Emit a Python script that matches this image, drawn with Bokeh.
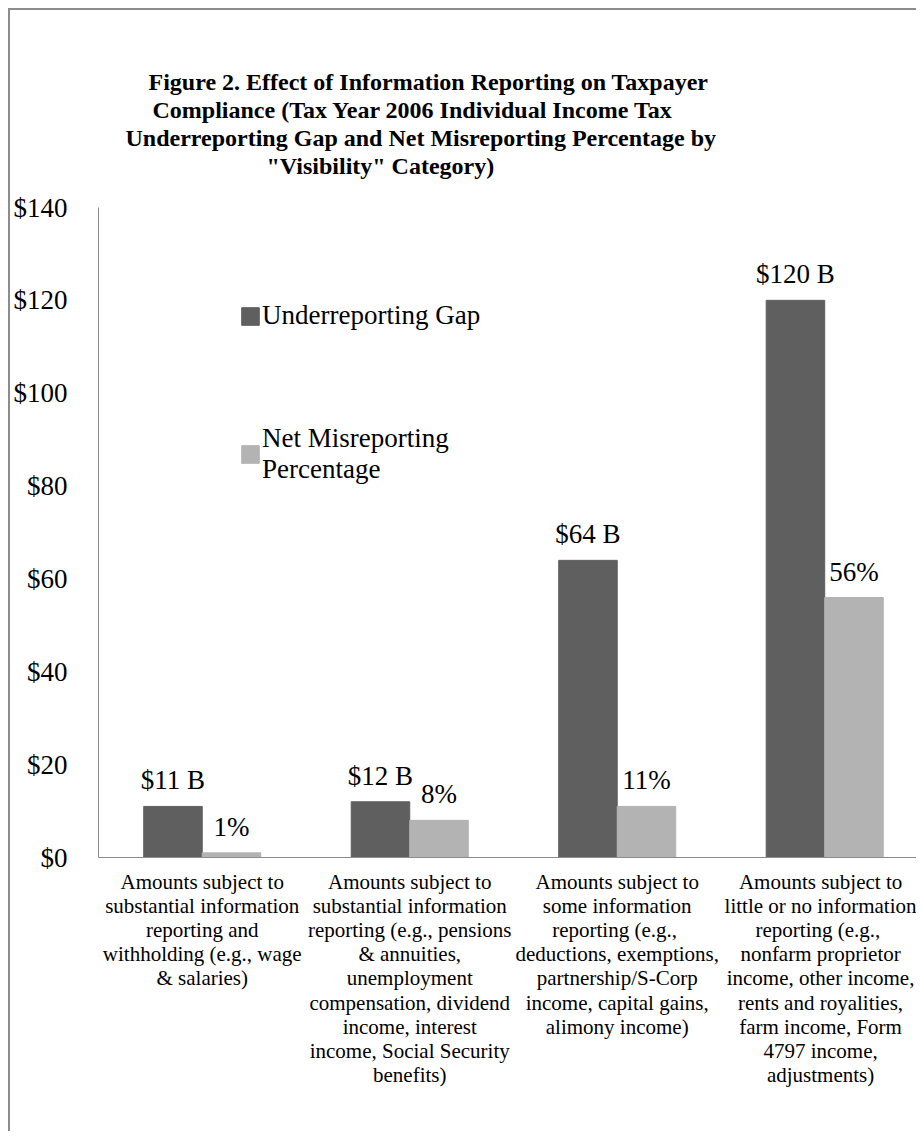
import numpy as np
from bokeh.plotting import figure
from bokeh.models import (ColumnDataSource, Range1d, FixedTicker, NumeralTickFormatter,
                          LabelSet, Title, Legend, LegendItem)
from bokeh.transform import dodge
from bokeh.core.properties import value
from bokeh.embed import file_html
from bokeh.resources import INLINE

# ---------------- data ----------------
categories = [
    "Amounts subject to\nsubstantial information\nreporting and\nwithholding (e.g., wage\n& salaries)",
    "Amounts subject to\nsubstantial information\nreporting (e.g., pensions\n& annuities,\nunemployment\ncompensation, dividend\nincome, interest\nincome, Social Security\nbenefits)",
    "Amounts subject to\nsome information\nreporting  (e.g.,\ndeductions, exemptions,\npartnership/S-Corp\nincome, capital gains,\nalimony income)",
    "Amounts subject to\nlittle or no information\nreporting  (e.g.,\nnonfarm proprietor\nincome, other income,\nrents and royalities,\nfarm income, Form\n4797 income,\nadjustments)",
]
underreporting_gap = [11, 12, 64, 120]        # $ billions
net_misreporting_pct = [1, 8, 11, 56]         # percent
series_names = ["Underreporting Gap", "Net Misreporting\nPercentage"]
y_ticks = [0, 20, 40, 60, 80, 100, 120, 140]
title_lines = [
    "Figure 2. Effect of Information Reporting on Taxpayer",
    "Compliance (Tax Year 2006 Individual Income Tax",
    "Underreporting Gap and Net Misreporting Percentage by",
    "\"Visibility\" Category)",
]

# ---------------- styles ----------------
FONT = "Liberation Serif"
DARK = "#5f5f5f"
LIGHT = "#b3b3b3"
AXIS = "#8c8c8c"
BAR_W = 0.282
title_offsets = [50, 54, 27, 168]   # left offsets (px) so that the lines are centred

x_pos = list(np.arange(len(categories)) + 0.5)
src = ColumnDataSource(dict(
    x=x_pos,
    gap=underreporting_gap,
    pct=net_misreporting_pct,
    gap_label=[f"${v} B" for v in underreporting_gap],
    pct_label=[f"{v}%" for v in net_misreporting_pct],
))

p = figure(width=908, height=1123, output_backend="svg", toolbar_location=None,
           x_range=Range1d(0, 3.952), y_range=Range1d(0, 140),
           min_border_left=82, min_border_right=0, min_border_top=197,
           min_border_bottom=276)
p.outline_line_color = None
p.grid.visible = False
p.background_fill_color = "white"
p.border_fill_color = "white"
p.styles = {"margin-left": "8px", "margin-top": "8px",
            "border-left": f"2px solid {AXIS}", "border-top": f"2px solid {AXIS}"}

r1 = p.vbar(x=dodge("x", -BAR_W / 2, range=p.x_range), top="gap", width=BAR_W,
            source=src, fill_color=DARK, line_color=DARK)
r2 = p.vbar(x=dodge("x", BAR_W / 2, range=p.x_range), top="pct", width=BAR_W,
            source=src, fill_color=LIGHT, line_color=LIGHT)

for col, txt, off in (("gap", "gap_label", -BAR_W / 2), ("pct", "pct_label", BAR_W / 2)):
    p.add_layout(LabelSet(x=dodge("x", off, range=p.x_range), y=col, text=txt, source=src,
                          text_align="center", text_baseline="alphabetic", y_offset=17,
                          text_font=value(FONT), text_font_size="27px", text_color="black"))

# y axis
p.yaxis.ticker = FixedTicker(ticks=y_ticks)
p.yaxis.formatter = NumeralTickFormatter(format="$0")
p.yaxis.major_label_text_font = FONT
p.yaxis.major_label_text_font_size = "27px"
p.yaxis.major_label_text_color = "black"
p.yaxis.major_label_standoff = 25
p.yaxis.axis_line_color = AXIS
p.yaxis.major_tick_line_color = None
p.yaxis.minor_tick_line_color = None

# x axis
p.xaxis.ticker = FixedTicker(ticks=x_pos)
p.xaxis.major_label_overrides = {float(x): c for x, c in zip(x_pos, categories)}
p.xaxis.major_label_text_font = FONT
p.xaxis.major_label_text_font_size = "21px"
p.xaxis.major_label_text_line_height = 1.01
p.xaxis.major_label_text_color = "black"
p.xaxis.major_label_standoff = 6
p.xaxis.axis_line_color = AXIS
p.xaxis.major_tick_line_color = None
p.xaxis.minor_tick_line_color = None

# legend
legend = Legend(items=[LegendItem(label=series_names[0], renderers=[r1]),
                       LegendItem(label=series_names[1], renderers=[r2])],
                location=(141, 372), orientation="vertical",
                padding=0, margin=0, spacing=92,
                glyph_width=22, glyph_height=22, label_standoff=1,
                border_line_color=None, background_fill_alpha=0,
                label_text_font=FONT, label_text_font_size="27px",
                label_text_line_height=1.1, label_text_color="black")
p.add_layout(legend)

# gap between the plot area and the title block
p.add_layout(Title(text=" ", standoff=0, text_font=FONT, text_font_size="25px"), "above")
# title, one line per Title, added from the bottom line upwards
for i in reversed(range(len(title_lines))):
    p.add_layout(Title(text=title_lines[i], align="left", offset=title_offsets[i],
                       standoff=0, text_font=FONT, text_font_style="bold",
                       text_font_size="24px", text_line_height=0.95,
                       text_color="black"), "above")

open("out.html", "w").write(file_html(p, INLINE))
